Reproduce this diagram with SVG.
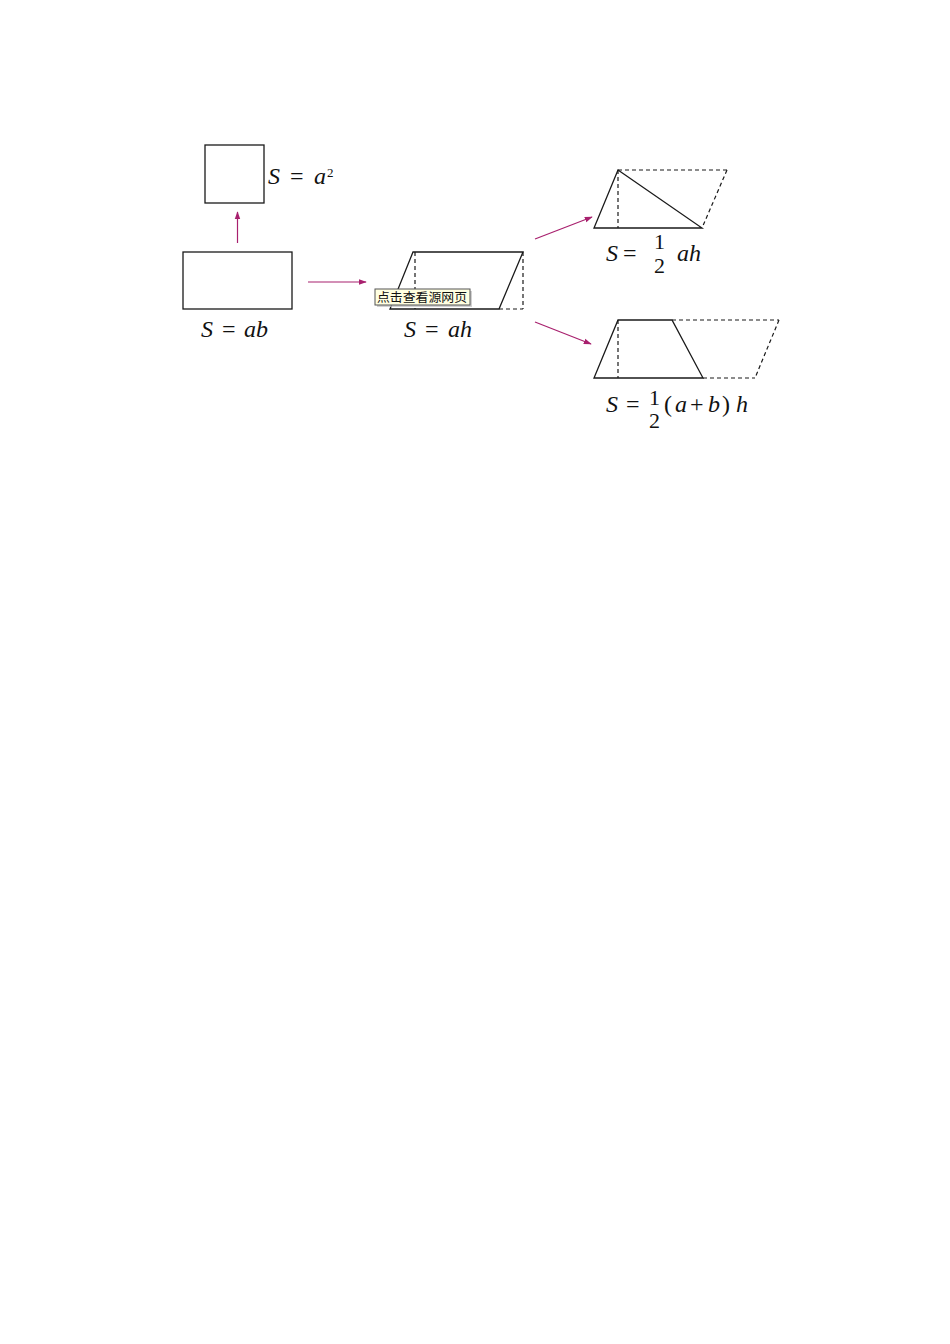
<svg xmlns="http://www.w3.org/2000/svg" width="950" height="1344" viewBox="0 0 950 1344">
<style>
.sh{fill:none;stroke:#1a1a1a;stroke-width:1.3}
.da{fill:none;stroke:#1a1a1a;stroke-width:1.2;stroke-dasharray:4 3}
.ar{fill:none;stroke:#a8206e;stroke-width:1.2}
.t{font-family:"Liberation Serif","Times New Roman",serif;font-size:24px;fill:#111}
.i{font-style:italic}
.f{font-size:22px}
.tip{font-family:"Noto Sans CJK SC",sans-serif;font-size:12.5px;fill:#111}
</style>
<defs>
<marker id="ah" viewBox="0 0 10 10" refX="9" refY="5" markerWidth="8" markerHeight="8" markerUnits="userSpaceOnUse" orient="auto">
<path d="M0,1.5 L10,5 L0,8.5 Z" fill="#a8206e"/>
</marker>
</defs>
<rect width="950" height="1344" fill="#fff"/>
<g id="connectors">
<line class="ar" x1="237.5" y1="243" x2="237.5" y2="212" marker-end="url(#ah)"/>
<line class="ar" x1="308" y1="282" x2="366" y2="282" marker-end="url(#ah)"/>
<line class="ar" x1="535" y1="239" x2="592" y2="217" marker-end="url(#ah)"/>
<line class="ar" x1="535" y1="322" x2="591" y2="344" marker-end="url(#ah)"/>
</g>
<g id="square">
<rect class="sh" x="205" y="145" width="59" height="58"/>
<text class="t" y="184"><tspan class="i" x="268">S</tspan><tspan x="290">=</tspan><tspan class="i" x="314">a</tspan><tspan x="327" y="177" font-size="13">2</tspan></text>
</g>
<g id="rectangle">
<rect class="sh" x="183" y="252" width="109" height="57"/>
<text class="t" y="337"><tspan class="i" x="201">S</tspan><tspan x="222">=</tspan><tspan class="i" x="244">ab</tspan></text>
</g>
<g id="parallelogram">
<polygon class="sh" points="413,252 523,252 499,309 390,309"/>
<line class="da" x1="415" y1="252" x2="415" y2="309"/>
<line class="da" x1="523" y1="252" x2="523" y2="309"/>
<line class="da" x1="499" y1="309" x2="523" y2="309"/>
<text class="t" y="337"><tspan class="i" x="404">S</tspan><tspan x="425">=</tspan><tspan class="i" x="448">ah</tspan></text>
</g>
<g id="tooltip">
<rect x="377" y="291" width="95" height="16" fill="#bdbdbd" opacity="0.7"/>
<rect x="375" y="289" width="95" height="16" fill="#ffffe1" stroke="#555" stroke-width="1"/>
<text class="tip" x="377" y="302" textLength="90" lengthAdjust="spacingAndGlyphs">点击查看源网页</text>
</g>
<g id="triangle">
<line class="da" x1="618" y1="170" x2="727" y2="170"/>
<line class="da" x1="727" y1="170" x2="702" y2="228"/>
<line class="da" x1="618" y1="170" x2="618" y2="228"/>
<polygon class="sh" points="618,170 702,228 594,228"/>
<text class="t" y="261"><tspan class="i" x="606">S</tspan><tspan x="623">=</tspan><tspan class="i" x="677">ah</tspan></text>
<text class="t f" x="654" y="249">1</text>
<text class="t f" x="654" y="273">2</text>
</g>
<g id="trapezoid">
<line class="da" x1="672" y1="320" x2="779" y2="320"/>
<line class="da" x1="779" y1="320" x2="755" y2="378"/>
<line class="da" x1="703" y1="378" x2="755" y2="378"/>
<line class="da" x1="618" y1="320" x2="618" y2="378"/>
<polygon class="sh" points="618,320 672,320 703,378 594,378"/>
<text class="t" y="412"><tspan class="i" x="606">S</tspan><tspan x="626">=</tspan><tspan x="664">(</tspan><tspan class="i" x="675">a</tspan><tspan x="690">+</tspan><tspan class="i" x="708">b</tspan><tspan x="722">)</tspan><tspan class="i" x="736">h</tspan></text>
<text class="t f" x="649" y="405">1</text>
<text class="t f" x="649" y="428">2</text>
</g>
</svg>
